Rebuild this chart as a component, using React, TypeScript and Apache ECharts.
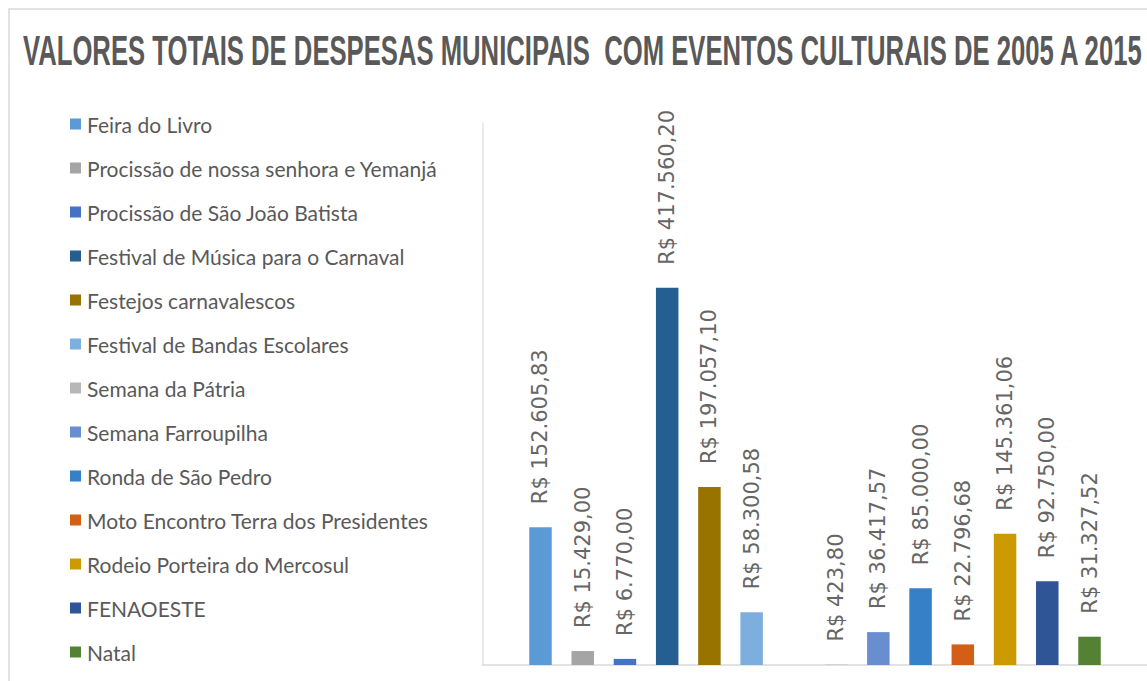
import React, { useEffect, useRef } from "react";
import * as echarts from "echarts";

const titleText = "VALORES TOTAIS DE DESPESAS MUNICIPAIS  COM EVENTOS CULTURAIS DE 2005 A 2015";

const eventNames = [
  "Feira do Livro",
  "Procissão de nossa senhora e Yemanjá",
  "Procissão de São João Batista",
  "Festival de Música para o Carnaval",
  "Festejos carnavalescos",
  "Festival de Bandas Escolares",
  "Semana da Pátria",
  "Semana Farroupilha",
  "Ronda de São Pedro",
  "Moto Encontro Terra dos Presidentes",
  "Rodeio Porteira do Mercosul",
  "FENAOESTE",
  "Natal",
];

const eventValues = [
  152605.83, 15429.0, 6770.0, 417560.2, 197057.1, 58300.58, 423.8, 36417.57, 85000.0,
  22796.68, 145361.06, 92750.0, 31327.52,
];

const eventColors = [
  "#5b9bd5", "#a5a5a5", "#4472c4", "#255e91", "#997300", "#7cafdd", "#b7b7b7",
  "#698ed0", "#3580c6", "#d35f16", "#cc9a00", "#2f5597", "#548235",
];

// Excel chart leaves one empty slot after this series
const emptySlotAfter = "Festival de Bandas Escolares";

const category = ["Eventos"];

function formatBRL(v: number): string {
  const [intPart, dec] = v.toFixed(2).split(".");
  const withDots = intPart.replace(/\B(?=(\d{3})+(?!\d))/g, ".");
  return "R$ " + withDots + "," + dec;
}

export default function App() {
  const ref = useRef<HTMLDivElement>(null);
  useEffect(() => {
    if (!ref.current) return;
    const chart = echarts.init(ref.current, undefined, { renderer: "svg" });

    const titleFont = 'bold 42px "Liberation Sans"';
    let titleScale = 0.55;
    try {
      const ctx = document.createElement("canvas").getContext("2d");
      if (ctx) {
        ctx.font = titleFont;
        const w = ctx.measureText(titleText).width;
        if (w > 0) titleScale = 1120 / w;
      }
    } catch (e) {}

    const series: any[] = [];
    eventNames.forEach((name, i) => {
      series.push({
        name,
        type: "bar",
        data: [eventValues[i]],
        barWidth: 22.5,
        barGap: "87.7%",
        itemStyle: { color: eventColors[i] },
        label: {
          show: true,
          position: "top",
          rotate: 90,
          align: "left",
          verticalAlign: "middle",
          distance: 23,
          color: "#666666",
          fontFamily: "DejaVu Sans",
          fontSize: 21,
          formatter: (p: any) => formatBRL(p.value),
        },
      });
      if (name === emptySlotAfter) {
        series.push({
          name: "vazio",
          type: "bar",
          data: [null],
          barWidth: 22.5,
          barGap: "87.7%",
        });
      }
    });

    chart.setOption({
      animation: false,
      backgroundColor: "#ffffff",
      graphic: [
        {
          type: "rect",
          shape: { x: 9, y: 9, width: 1200, height: 720 },
          style: { fill: "none", stroke: "#d9d9d9", lineWidth: 1.5 },
          silent: true,
        },
        {
          type: "text",
          x: 23,
          y: 50,
          scaleX: titleScale,
          originX: 0,
          style: {
            text: titleText,
            font: titleFont,
            fill: "#595959",
            textAlign: "left",
            textVerticalAlign: "middle",
          },
        },
      ],
      legend: {
        data: eventNames,
        orient: "vertical",
        left: 65,
        top: 107,
        itemWidth: 11,
        itemHeight: 11,
        itemGap: 20,
        icon: "rect",
        textStyle: {
          color: "#595959",
          fontFamily: "Lato",
          fontSize: 21,
          lineHeight: 24,
          padding: [0, 0, 0, 1],
        },
      },
      grid: { left: 483, right: -3, top: 123, bottom: 16, containLabel: false },
      xAxis: {
        type: "category",
        data: category,
        axisLine: { show: true, lineStyle: { color: "#d9d9d9", width: 1.5 } },
        axisTick: { show: false },
        axisLabel: { show: false },
      },
      yAxis: {
        type: "value",
        min: 0,
        max: 600000,
        axisLine: { show: true, lineStyle: { color: "#e3e3e3", width: 1.5 } },
        axisTick: { show: false },
        axisLabel: { show: false },
        splitLine: { show: false },
      },
      series,
    });
    return () => chart.dispose();
  }, []);
  return (
    <div
      ref={ref}
      style={{ position: "fixed", left: 0, top: 0, width: 1147, height: 681 }}
    />
  );
}
